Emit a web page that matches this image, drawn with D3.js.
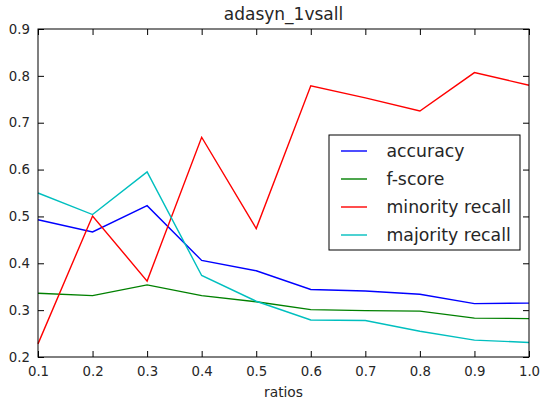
<!DOCTYPE html>
<html>
<head>
<meta charset="utf-8">
<script src="https://cdn.jsdelivr.net/npm/d3@7"></script>
<style>
  body { margin: 0; background: #fff; }
  text { font-family: "DejaVu Sans", sans-serif; fill: #262626; }
</style>
</head>
<body>
<svg id="chart"></svg>
<script>
const ratios = [0.1, 0.2, 0.3, 0.4, 0.5, 0.6, 0.7, 0.8, 0.9, 1.0];
const accuracy = [0.493, 0.467, 0.523, 0.406, 0.384, 0.344, 0.341, 0.334, 0.314, 0.315];
const fscore = [0.336, 0.331, 0.354, 0.331, 0.318, 0.301, 0.299, 0.298, 0.283, 0.282];
const minorityRecall = [0.228, 0.501, 0.362, 0.669, 0.474, 0.779, 0.753, 0.725, 0.807, 0.780];
const majorityRecall = [0.550, 0.504, 0.595, 0.374, 0.319, 0.279, 0.278, 0.255, 0.236, 0.231];
const seriesNames = ["accuracy", "f-score", "minority recall", "majority recall"];
const xTicks = [0.1, 0.2, 0.3, 0.4, 0.5, 0.6, 0.7, 0.8, 0.9, 1.0];
const yTicks = [0.2, 0.3, 0.4, 0.5, 0.6, 0.7, 0.8, 0.9];

const colors = ["#0000ff", "#008000", "#ff0000", "#00bfbf"];
const series = [accuracy, fscore, minorityRecall, majorityRecall];

const W = 540, H = 403;
const margin = { top: 29, right: 11, bottom: 46, left: 38 };
const width = W - margin.left - margin.right;
const height = H - margin.top - margin.bottom;

const svg = d3.select("#chart").attr("width", W).attr("height", H);
const g = svg.append("g")
  .attr("transform", "translate(" + margin.left + "," + margin.top + ")");

const x = d3.scaleLinear().domain([0.1, 1.0]).range([0, width]);
const y = d3.scaleLinear().domain([0.2, 0.9]).range([height, 0]);

// lines
const line = d3.line().x((d, i) => x(ratios[i])).y(d => y(d));
series.forEach((s, k) => {
  g.append("path")
    .datum(s)
    .attr("fill", "none")
    .attr("stroke", colors[k])
    .attr("stroke-width", 1.4)
    .attr("d", line);
});

// axes with inward ticks on all four sides
const fmt = d3.format(".1f");
const styleAxis = sel => {
  sel.select(".domain").remove();
  sel.selectAll(".tick line").attr("stroke", "#000").attr("stroke-width", 1);
  sel.selectAll(".tick text").style("font-size", "13.3px").attr("fill", "#262626");
};
g.append("g").attr("transform", "translate(0," + height + ")")
  .call(d3.axisBottom(x).tickValues(xTicks).tickFormat(fmt).tickSizeInner(-6).tickPadding(10))
  .call(styleAxis);
g.append("g")
  .call(d3.axisTop(x).tickValues(xTicks).tickFormat("").tickSizeInner(-6))
  .call(styleAxis);
g.append("g")
  .call(d3.axisLeft(y).tickValues(yTicks).tickFormat(fmt).tickSizeInner(-6).tickPadding(8))
  .call(styleAxis);
g.append("g").attr("transform", "translate(" + width + ",0)")
  .call(d3.axisRight(y).tickValues(yTicks).tickFormat("").tickSizeInner(-6))
  .call(styleAxis);

g.append("rect")
  .attr("width", width).attr("height", height)
  .attr("fill", "none").attr("stroke", "#000").attr("stroke-width", 1);

// title and label
svg.append("text")
  .attr("x", margin.left + width / 2).attr("y", 20)
  .attr("text-anchor", "middle").style("font-size", "17px")
  .text("adasyn_1vsall");
svg.append("text")
  .attr("x", margin.left + width / 2).attr("y", 396.5)
  .attr("text-anchor", "middle").style("font-size", "13.8px")
  .text("ratios");

// legend
const lg = svg.append("g").attr("transform", "translate(329,135)");
lg.append("rect")
  .attr("width", 191).attr("height", 115)
  .attr("fill", "#fff").attr("stroke", "#000").attr("stroke-width", 1);
seriesNames.forEach((name, k) => {
  const yy = 16 + k * 28;
  lg.append("line")
    .attr("x1", 12).attr("x2", 38).attr("y1", yy).attr("y2", yy)
    .attr("stroke", colors[k]).attr("stroke-width", 1.4);
  lg.append("text")
    .attr("x", 57.5).attr("y", yy + 6.3)
    .style("font-size", "17.3px")
    .text(name);
});
</script>
</body>
</html>
